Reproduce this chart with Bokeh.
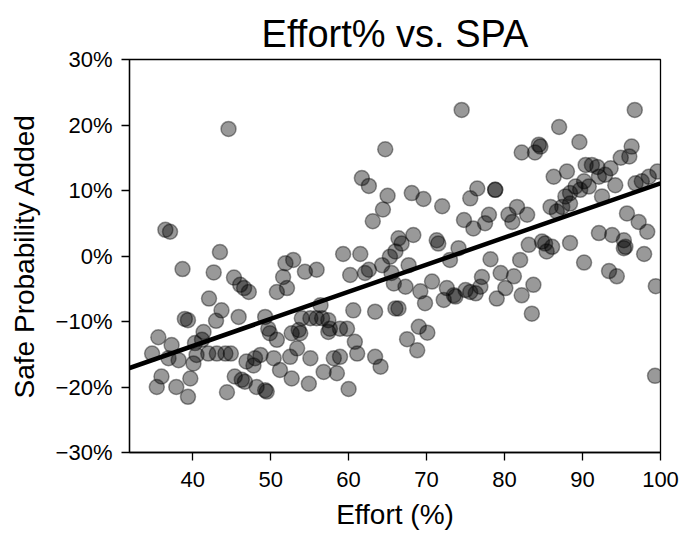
from bokeh.plotting import figure
from bokeh.models import Range1d, FixedTicker, CustomJSTickFormatter
from bokeh.embed import file_html
from bokeh.resources import INLINE

effort = [
    44.6, 64.7, 61.7, 62.6, 65.0, 64.4, 63.1, 36.5, 37.1,
    43.5, 38.7, 42.7, 45.3, 46.1, 46.6, 47.2, 42.1, 43.7, 43.0, 39.0, 39.4, 35.6, 37.3, 34.8,
    36.9, 38.2, 41.4, 41.2, 40.3, 40.5, 40.1, 42.0, 43.1, 44.2, 44.9, 36.0, 35.4, 37.9, 39.7,
    39.4, 44.4, 45.4, 46.3, 46.7, 48.2, 49.3, 49.5, 46.9, 47.8, 48.7, 48.0, 45.9, 49.3, 49.7,
    49.9, 50.8, 50.4, 51.2, 52.7, 54.9, 56.8, 58.5, 60.0, 52.5, 53.4, 55.1, 58.1, 58.9, 53.6,
    53.8, 52.7, 54.0, 55.1, 55.9, 56.6, 57.4, 57.6, 58.9, 59.8, 57.4, 56.4, 60.6, 63.4, 60.8,
    61.1, 63.4, 64.1, 66.0, 50.8, 52.1, 51.6, 51.9, 52.9, 54.4, 55.9, 59.3, 61.5, 60.2, 62.1,
    62.6, 64.3, 65.3, 66.0, 65.8,
    74.5, 96.7, 87.0, 89.6, 82.2, 83.9, 84.4, 84.6, 96.3, 96.0, 94.9, 90.4, 91.2, 91.9, 93.6,
    86.3, 88.0, 90.2, 90.8, 92.1, 92.9, 92.5, 94.2, 96.8, 97.6, 98.5, 99.6, 89.1, 89.7, 88.4,
    87.8, 88.4, 87.4, 86.7, 85.9, 95.7, 97.2, 98.3, 92.1, 93.8, 95.3, 95.5, 68.1, 69.6, 72.0,
    76.5, 75.6, 78.8, 78.8, 74.8, 76.0, 77.5, 78.0, 80.5, 81.6, 81.0, 82.9, 66.4, 66.8, 68.3,
    71.3, 71.5, 74.1, 83.1, 84.8, 85.2, 88.4,
    66.4, 69.0, 70.1, 67.5, 68.8, 65.5, 67.3, 69.2, 69.8, 70.7, 67.7, 72.2, 72.6, 73.5, 73.7,
    75.0, 75.6, 76.3, 77.1, 76.9, 78.2, 79.5, 81.2, 80.1, 79.0, 82.2, 83.7, 82.0, 83.5, 85.4,
    86.1, 90.2, 93.4, 94.4, 95.3, 97.9, 99.4, 99.3, 73.0,
]
spa = [
    19.4, 16.3, 11.9, 10.7, 9.2, 7.1, 5.3, 4.0, 3.7,
    0.6, -2.0, -2.5, -3.3, -4.4, -4.9, -5.5, -6.5, -8.3, -9.9, -9.6, -9.8, -12.4, -13.6, -14.9,
    -15.6, -15.9, -11.6, -12.8, -13.3, -15.1, -16.4, -14.9, -14.9, -14.9, -14.9, -18.4, -20.0, -20.0, -18.7,
    -21.5, -20.8, -18.4, -18.9, -19.2, -20.0, -20.5, -20.7, -16.1, -16.7, -15.1, -15.6, -9.3, -9.3, -11.1,
    -11.8, -12.8, -15.6, -17.4, -18.7, -19.5, -17.7, -17.9, -20.3, -15.4, -14.1, -15.6, -15.6, -15.4, -11.3,
    -11.8, -11.8, -9.5, -9.5, -9.5, -9.5, -9.8, -11.1, -11.1, -11.1, -11.6, -7.5, -8.3, -8.5, -13.1,
    -14.9, -15.4, -16.9, -8.0, -5.5, -4.9, -3.2, -1.1, -0.6, -2.4, -2.1, 0.3, 0.3, -2.9, -2.6,
    -2.1, -1.4, -0.1, 0.7, -4.2,
    22.3, 22.3, 19.7, 17.4, 15.8, 15.8, 17.0, 16.7, 16.7, 15.2, 15.0, 13.9, 13.9, 13.6, 13.4,
    12.1, 12.9, 11.4, 10.6, 12.1, 12.4, 9.1, 10.8, 11.1, 11.4, 12.1, 12.9, 10.6, 10.1, 9.6,
    9.1, 8.0, 7.5, 6.8, 7.5, 6.5, 5.2, 3.7, 3.5, 3.2, 2.4, 1.4, 9.6, 8.7, 7.6,
    10.3, 8.8, 10.1, 10.1, 5.5, 4.2, 5.0, 6.3, 6.3, 7.5, 5.2, 6.3, 2.7, 1.9, 3.2,
    2.4, 1.9, 1.2, 1.7, 2.2, 1.9, 2.0,
    -8.0, -10.8, -11.7, -12.7, -14.4, -2.6, -4.7, -5.4, -7.2, -3.9, -1.4, -6.7, -4.9, -6.0, -6.2,
    -5.2, -5.5, -5.7, -3.2, -4.7, -0.5, -2.6, -3.1, -4.9, -6.5, -6.0, -4.4, -0.6, -8.8, 0.7,
    1.4, -1.0, -2.3, -3.1, 1.2, 0.3, -4.6, -18.3, -0.6,
]

fit_x = [31.9, 100.0]
fit_y = [-17.1, 11.1]

x_ticks = [40, 50, 60, 70, 80, 90, 100]
y_ticks = [-30, -20, -10, 0, 10, 20, 30]

FONT = "Liberation Sans"

p = figure(frame_width=531, frame_height=393, output_backend="svg", toolbar_location=None,
           x_range=Range1d(31.9, 100), y_range=Range1d(-30, 30),
           min_border_left=129, min_border_right=21, min_border_top=59, min_border_bottom=80,
           title="Effort% vs. SPA")

p.title.text_font = FONT
p.title.text_font_size = "38px"
p.title.text_font_style = "normal"
p.title.text_color = "black"
p.title.align = "center"

p.grid.visible = False
p.outline_line_color = "black"
p.outline_line_width = 1.3
p.background_fill_color = "white"
p.border_fill_color = "white"

for ax in (p.xaxis[0], p.yaxis[0]):
    ax.axis_line_color = "black"
    ax.axis_line_width = 1.3
    ax.major_tick_line_color = "black"
    ax.major_tick_line_width = 1.3
    ax.major_tick_in = 0
    ax.major_tick_out = 8
    ax.minor_tick_line_color = None
    ax.major_label_text_font = FONT
    ax.major_label_text_font_size = "22px"
    ax.major_label_text_color = "black"
    ax.axis_label_text_font = FONT
    ax.axis_label_text_font_size = "28px"
    ax.axis_label_text_font_style = "normal"
    ax.axis_label_text_color = "black"

p.xaxis.ticker = FixedTicker(ticks=x_ticks)
p.yaxis.ticker = FixedTicker(ticks=y_ticks)
p.yaxis.formatter = CustomJSTickFormatter(
    code="return (tick < 0 ? '\\u2212' : '') + Math.abs(tick).toFixed(0) + '%';")
p.xaxis.axis_label = "Effort (%)"
p.yaxis.axis_label = "Safe Probability Added"
p.xaxis.major_label_standoff = 11
p.yaxis.major_label_standoff = 9
p.xaxis.axis_label_standoff = 9
p.yaxis.axis_label_standoff = 13

p.scatter(effort, spa, size=15, fill_color="black", fill_alpha=0.4,
          line_color="black", line_alpha=0.4, line_width=1.5)
p.line(fit_x, fit_y, line_color="black", line_width=4.5)

open("out.html", "w").write(file_html(p, INLINE))
